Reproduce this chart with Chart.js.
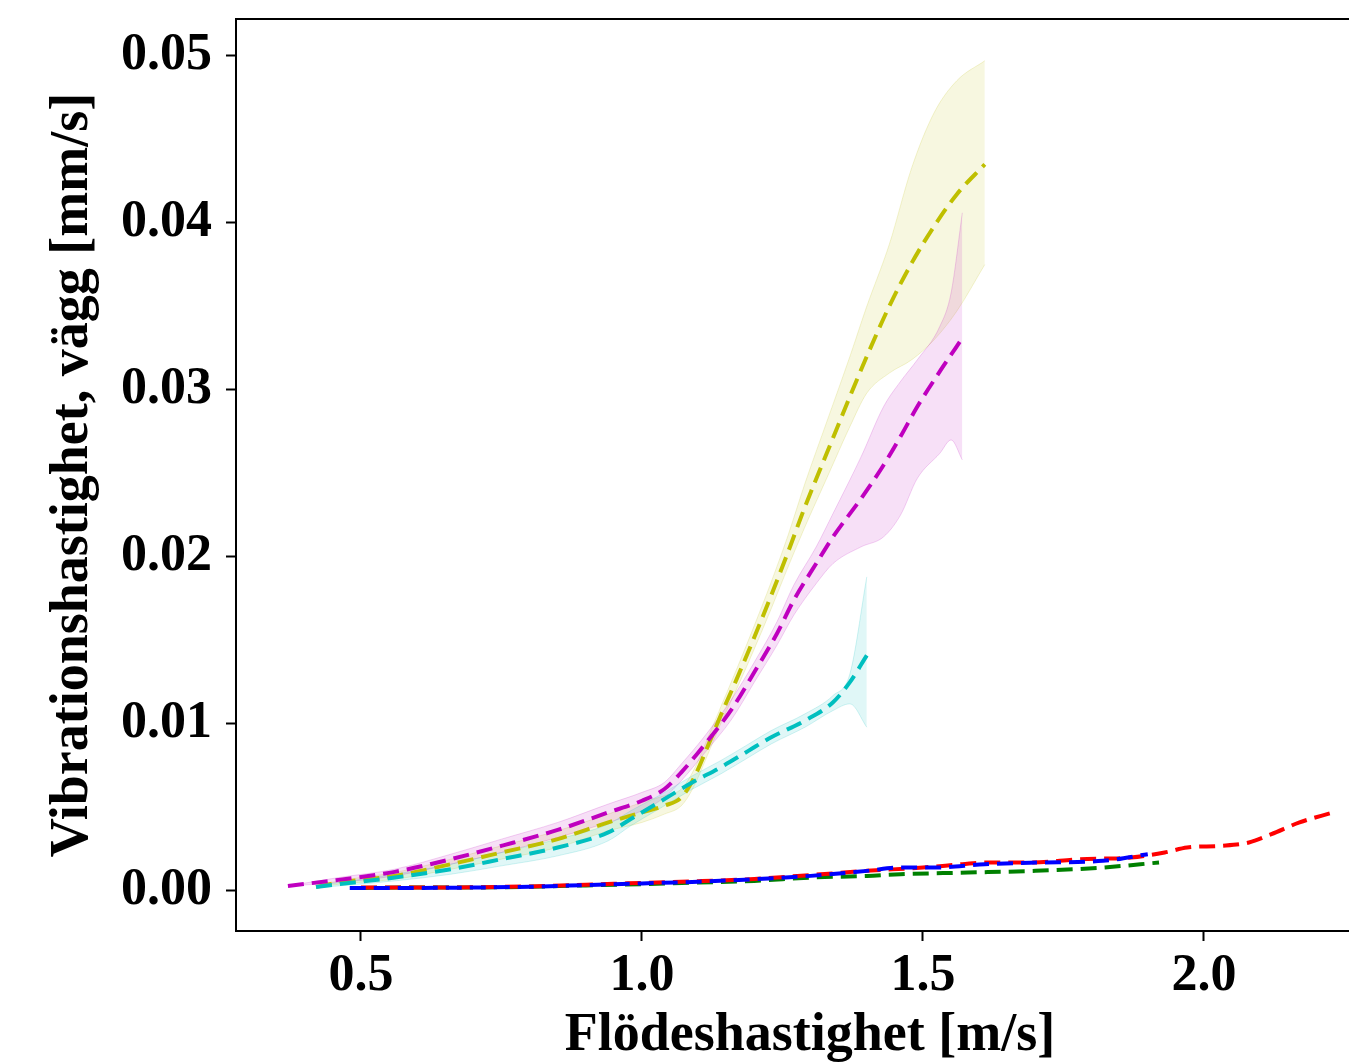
<!DOCTYPE html>
<html>
<head>
<meta charset="utf-8">
<script src="https://cdn.jsdelivr.net/npm/chart.js@4.4.0/dist/chart.umd.min.js"></script>
<style>
  html, body { margin: 0; padding: 0; background: #fff; overflow: hidden; }
  #c { display: block; }
</style>
</head>
<body>
<canvas id="c" width="1400" height="1063" style="width:1400px;height:1063px"></canvas>
<script>
// ---- axlar ----
const xTicks = [0.5, 1.0, 1.5, 2.0];
const yTicks = [0.00, 0.01, 0.02, 0.03, 0.04, 0.05];

// ---- gul (y) ----
const yellowX     = [0.42, 0.46, 0.56, 0.66, 0.75, 0.85, 0.94, 1.00, 1.04, 1.07, 1.09, 1.12, 1.14, 1.17, 1.20, 1.23, 1.26, 1.29, 1.33, 1.37, 1.40, 1.44, 1.48, 1.52, 1.56, 1.61];
const yellowMean  = [0.00024, 0.0005, 0.0009, 0.0016, 0.0023, 0.0031, 0.0041, 0.0047, 0.0051, 0.0056, 0.0066, 0.0089, 0.0105, 0.0128, 0.0152, 0.0177, 0.0203, 0.0230, 0.0263, 0.0296, 0.0320, 0.0350, 0.0376, 0.0398, 0.0417, 0.0435];
const yellowUpper = [0.0003, 0.0006, 0.0011, 0.0019, 0.0027, 0.0036, 0.0046, 0.0053, 0.0057, 0.0061, 0.0071, 0.0094, 0.0110, 0.0134, 0.0159, 0.0185, 0.0213, 0.0244, 0.0282, 0.0320, 0.0350, 0.0387, 0.0433, 0.0466, 0.0485, 0.0497];
const yellowLower = [0.0002, 0.0004, 0.0007, 0.0013, 0.0019, 0.0026, 0.0036, 0.0041, 0.0046, 0.0051, 0.0061, 0.0084, 0.0100, 0.0122, 0.0145, 0.0169, 0.0194, 0.0218, 0.0248, 0.0278, 0.0298, 0.0310, 0.0318, 0.0330, 0.0347, 0.0375];

// ---- magenta (m) ----
const magentaX     = [0.37, 0.46, 0.56, 0.66, 0.75, 0.85, 0.94, 1.00, 1.04, 1.07, 1.11, 1.16, 1.20, 1.24, 1.27, 1.31, 1.34, 1.39, 1.43, 1.46, 1.49, 1.53, 1.55, 1.57];
const magentaMean  = [0.0003, 0.00066, 0.00114, 0.0019, 0.0027, 0.00365, 0.0047, 0.0054, 0.0061, 0.0071, 0.0087, 0.0109, 0.0131, 0.0154, 0.0174, 0.0196, 0.0212, 0.0235, 0.0255, 0.0272, 0.0290, 0.0311, 0.0321, 0.0331];
const magentaUpper = [0.0003, 0.0008, 0.0013, 0.0022, 0.0031, 0.0041, 0.0052, 0.0059, 0.0065, 0.0076, 0.0092, 0.0115, 0.0137, 0.0161, 0.0183, 0.0206, 0.0226, 0.0260, 0.0290, 0.0305, 0.0318, 0.0338, 0.0358, 0.0406];
const magentaLower = [0.0003, 0.0005, 0.0009, 0.0016, 0.0023, 0.0032, 0.0041, 0.0048, 0.0056, 0.0066, 0.0082, 0.0103, 0.0125, 0.0147, 0.0165, 0.0184, 0.0196, 0.0206, 0.0212, 0.0225, 0.0247, 0.0262, 0.0270, 0.0258];

// ---- cyan (c) ----
const cyanX     = [0.42, 0.46, 0.56, 0.66, 0.75, 0.85, 0.94, 0.98, 1.03, 1.09, 1.14, 1.19, 1.23, 1.29, 1.34, 1.37, 1.40];
const cyanMean  = [0.00024, 0.0004, 0.0008, 0.0013, 0.0019, 0.0026, 0.0035, 0.0043, 0.0053, 0.0065, 0.0074, 0.0084, 0.0092, 0.0102, 0.0113, 0.0125, 0.0141];
const cyanUpper = [0.0003, 0.0005, 0.0010, 0.0016, 0.0023, 0.0031, 0.0040, 0.0048, 0.0057, 0.0069, 0.0078, 0.0088, 0.0096, 0.0106, 0.0117, 0.0130, 0.0188];
const cyanLower = [0.0002, 0.0003, 0.0006, 0.0010, 0.0015, 0.0021, 0.0030, 0.0039, 0.0049, 0.0061, 0.0070, 0.0080, 0.0088, 0.0098, 0.0108, 0.0112, 0.0098];

// ---- röd (r) ----
const redX    = [0.50, 0.60, 0.70, 0.80, 0.90, 1.00, 1.10, 1.20, 1.30, 1.40, 1.50, 1.57, 1.61, 1.69, 1.78, 1.87, 1.93, 1.97, 2.03, 2.08, 2.12, 2.17, 2.23];
const redMean = [0.0002, 0.0002, 0.00022, 0.00027, 0.00037, 0.00048, 0.00058, 0.00072, 0.00095, 0.0012, 0.0014, 0.0016, 0.0017, 0.0017, 0.0019, 0.0020, 0.0023, 0.0026, 0.0027, 0.0029, 0.0034, 0.0041, 0.0047];

// ---- blå (b) ----
const blueX    = [0.48, 0.60, 0.70, 0.80, 0.90, 1.00, 1.10, 1.20, 1.30, 1.40, 1.46, 1.52, 1.61, 1.71, 1.82, 1.90];
const blueMean = [0.00018, 0.00018, 0.0002, 0.00025, 0.00035, 0.00045, 0.00055, 0.0007, 0.0009, 0.0012, 0.0014, 0.0014, 0.0016, 0.0017, 0.0018, 0.0022];

// ---- grön (g) ----
const greenX    = [0.50, 0.60, 0.70, 0.80, 0.90, 1.00, 1.10, 1.20, 1.30, 1.40, 1.46, 1.58, 1.70, 1.82, 1.92];
const greenMean = [0.00018, 0.0002, 0.0002, 0.00025, 0.00033, 0.0004, 0.0005, 0.0006, 0.0008, 0.0009, 0.0010, 0.0011, 0.0012, 0.0014, 0.0017];

const FONT = "'Liberation Serif', 'Times New Roman', serif";

function pts(xs, ys) {
  return xs.map((x, i) => ({ x: x, y: ys[i] }));
}

function lineSet(xs, ys, color) {
  return {
    data: pts(xs, ys),
    borderColor: color,
    borderWidth: 4,
    borderDash: [16, 8],
    pointRadius: 0,
    fill: false,
    cubicInterpolationMode: "monotone"
  };
}

const datasets = [
  lineSet(blueX, blueMean, "#0000ff"),
  lineSet(redX, redMean, "#ff0000"),
  lineSet(greenX, greenMean, "#008000"),
  lineSet(cyanX, cyanMean, "#00bfbf"),
  lineSet(magentaX, magentaMean, "#bf00bf"),
  lineSet(yellowX, yellowMean, "#bfbf00")
];

// band = övre kant fylld ner till undre kant
function addBand(xs, up, lo, rgb) {
  const idx = datasets.length;
  datasets.push({
    data: pts(xs, up),
    borderColor: "rgba(" + rgb + ",0.18)",
    borderWidth: 1,
    pointRadius: 0,
    backgroundColor: "rgba(" + rgb + ",0.12)",
    fill: { target: idx + 1 },
    cubicInterpolationMode: "monotone"
  });
  datasets.push({
    data: pts(xs, lo),
    borderColor: "rgba(" + rgb + ",0.18)",
    borderWidth: 1,
    pointRadius: 0,
    fill: false,
    cubicInterpolationMode: "monotone"
  });
}
addBand(cyanX, cyanUpper, cyanLower, "0,191,191");
addBand(magentaX, magentaUpper, magentaLower, "191,0,191");
addBand(yellowX, yellowUpper, yellowLower, "191,191,0");

// ram runt hela plottytan (även topp)
const frame = {
  id: "frame",
  afterDraw(chart) {
    const a = chart.chartArea, ctx = chart.ctx;
    ctx.save();
    ctx.strokeStyle = "#000";
    ctx.lineWidth = 2;
    ctx.strokeRect(a.left, a.top, a.right - a.left, a.bottom - a.top);
    ctx.restore();
  }
};

new Chart(document.getElementById("c"), {
  type: "line",
  data: { datasets: datasets },
  plugins: [frame],
  options: {
    responsive: false,
    animation: false,
    devicePixelRatio: 1,
    layout: { padding: { top: 19, right: 16, left: 0, bottom: 0 } },
    plugins: { legend: { display: false }, tooltip: { enabled: false } },
    scales: {
      x: {
        type: "linear",
        min: 0.2776,
        max: 2.3203,
        afterBuildTicks: (s) => { s.ticks = xTicks.map(v => ({ value: v })); },
        afterFit: (s) => { s.height = 132; s.paddingLeft = 0; s.paddingRight = 0; },
        ticks: {
          color: "#000",
          padding: 10,
          font: { family: FONT, size: 52, weight: "bold", lineHeight: 1 },
          callback: (v) => Number(v).toFixed(1)
        },
        grid: { drawOnChartArea: false, drawTicks: true, tickLength: 10, tickColor: "#000", tickWidth: 2 },
        border: { display: true, color: "#000", width: 2 },
        title: {
          display: true,
          text: "Flödeshastighet [m/s]",
          color: "#000",
          padding: { top: 0, bottom: 0 },
          font: { family: FONT, size: 54, weight: "bold", lineHeight: 1 }
        }
      },
      y: {
        type: "linear",
        min: -0.0024,
        max: 0.0522,
        afterBuildTicks: (s) => { s.ticks = yTicks.map(v => ({ value: v })); },
        afterFit: (s) => { s.width = 236; s.paddingTop = 0; s.paddingBottom = 0; },
        ticks: {
          color: "#000",
          padding: 14,
          font: { family: FONT, size: 52, weight: "bold", lineHeight: 1 },
          callback: (v) => Number(v).toFixed(2)
        },
        grid: { drawOnChartArea: false, drawTicks: true, tickLength: 10, tickColor: "#000", tickWidth: 2 },
        border: { display: true, color: "#000", width: 2 },
        title: {
          display: true,
          text: "Vibrationshastighet, vägg [mm/s]",
          color: "#000",
          padding: { top: 46, bottom: 0 },
          font: { family: FONT, size: 54, weight: "bold", lineHeight: 1 }
        }
      }
    }
  }
});
</script>
</body>
</html>
